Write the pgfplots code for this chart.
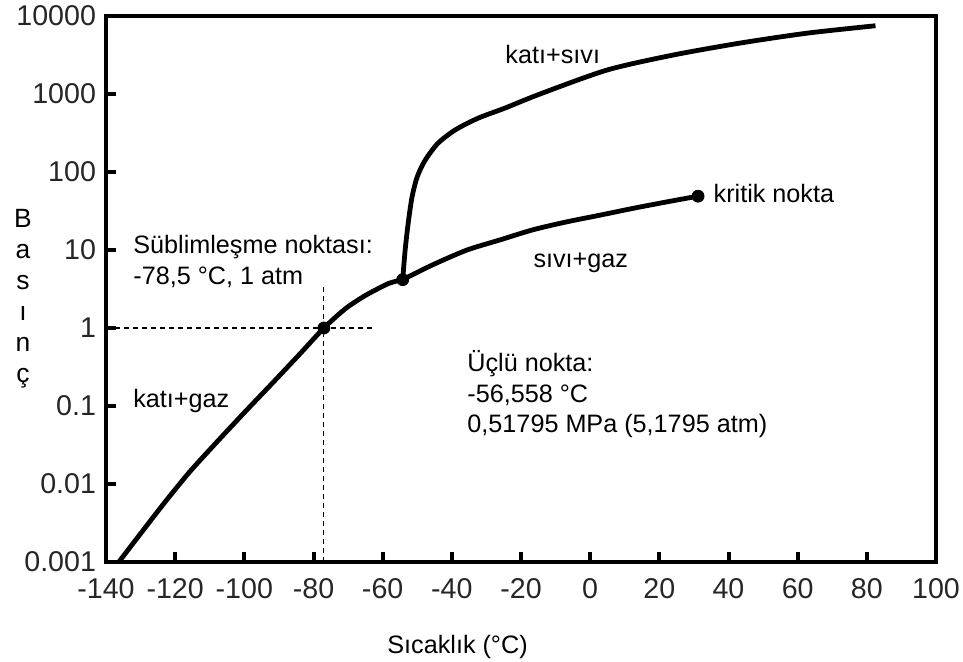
\documentclass[border=0pt]{standalone}
\usepackage{pgfplots}
\pgfplotsset{compat=1.18}
\usepackage{fontspec}
\setmainfont{Liberation Sans}
\newcommand{\lbl}{\fontsize{12.6}{15}\selectfont}
\tikzset{
  lab/.style={anchor=base west, inner sep=0pt, font=\lbl},
  ylab/.style={anchor=base, inner sep=0pt, font=\fontsize{13.2}{15}\selectfont},
}
\begin{document}
\begin{tikzpicture}
\useasboundingbox (-53pt,-49.5pt) rectangle (428.5pt,281pt);
\begin{axis}[
  scale only axis, width=415pt, height=273pt,
  xmin=-140, xmax=100, ymode=log, ymin=0.001, ymax=10000,
  xtick={-140,-120,-100,-80,-60,-40,-20,0,20,40,60,80,100},
  ytick={0.001,0.01,0.1,1,10,100,1000,10000},
  yticklabels={0.001,0.01,0.1,1,10,100,1000,10000},
  yminorticks=false,
  tick align=inside, xtick pos=bottom, ytick pos=left,
  major tick length=5pt,
  every tick/.style={black, line width=2pt},
  axis line style={line width=2.2pt},
  /pgf/number format/assume math mode=true,
  ticklabel style={font=\fontsize{14.3}{17}\selectfont, text=black!85},
  xticklabel shift=4.5pt, yticklabel shift=1.5pt,
  clip=false,
]
% sublimation curve
\addplot[black, line width=2.4pt, line join=round, smooth, tension=0.4] coordinates {
  (-136.3,0.001) (-128.7,0.00275) (-122.9,0.0059) (-115.7,0.0145)
  (-107.5,0.0363) (-99.7,0.0851) (-92.2,0.19) (-84.3,0.447) (-77,1)
  (-70.7,1.78) (-64.9,2.63) (-58.3,3.72) (-54.2,4.17)};
% vaporization curve
\addplot[black, line width=2.4pt, line join=round, smooth, tension=0.45] coordinates {
  (-54.2,4.17) (-45.4,6.5) (-35.6,10) (-26.0,13.5) (-16.5,18.2) (-6.7,23)
  (2.9,28) (12.4,34.2) (22.3,41.5) (31.2,49)};
% melting curve
\addplot[black, line width=2.4pt, line join=round, smooth, tension=0.45] coordinates {
  (-54.2,4.17) (-53.5,10) (-52.6,22.4) (-51.5,48) (-50.0,87) (-47.7,142)
  (-44.0,234) (-39.0,347) (-32.4,490) (-24.6,661) (-14.5,1000)
  (4.9,2030) (24.0,3160) (43.4,4500) (62.8,6030) (82.5,7500)};
% dashed guide lines
\addplot[black, line width=0.6pt, dash pattern=on 2.5pt off 2pt] coordinates {(-140,1) (-62.6,1)};
\addplot[black, line width=0.6pt, dash pattern=on 2.5pt off 2pt] coordinates {(-77,0.001) (-77,3.6)};
% points
\addplot[only marks, mark=*, mark size=3pt, black] coordinates {(-77,1) (-54.2,4.17) (31.2,49)};
% labels
\node[lab] at (axis cs:-24.6,2495) {katı+sıvı};
\node[lab] at (axis cs:-16.5,6.05) {sıvı+gaz};
\node[lab] at (axis cs:35.6,40.1) {kritik nokta};
\node[lab] at (axis cs:-132.2,8.89) {Süblimleşme noktası:};
\node[lab] at (axis cs:-132.2,8.89) [yshift=-15.5pt] {-78,5 °C, 1 atm};
\node[lab] at (axis cs:-132.2,0.097) {katı+gaz};
\node[lab] at (axis cs:-35.6,0.273) {Üçlü nokta:};
\node[lab] at (axis cs:-35.6,0.273) [yshift=-15.25pt] {-56,558 °C};
\node[lab] at (axis cs:-35.6,0.273) [yshift=-30.5pt] {0,51795 MPa (5,1795 atm)};
% y label (stacked letters)
\node[ylab] at (rel axis cs:0,0) [xshift=-41.5pt, yshift=167.5pt] {B};
\node[ylab] at (rel axis cs:0,0) [xshift=-41.5pt, yshift=152pt] {a};
\node[ylab] at (rel axis cs:0,0) [xshift=-41.5pt, yshift=136.5pt] {s};
\node[ylab] at (rel axis cs:0,0) [xshift=-41.5pt, yshift=121pt] {ı};
\node[ylab] at (rel axis cs:0,0) [xshift=-41.5pt, yshift=105.5pt] {n};
\node[ylab] at (rel axis cs:0,0) [xshift=-41.5pt, yshift=90pt] {ç};
% x label
\node[lab] at (rel axis cs:0,0) [xshift=140.5pt, yshift=-45.5pt] {Sıcaklık (°C)};
\end{axis}
\end{tikzpicture}
\end{document}
